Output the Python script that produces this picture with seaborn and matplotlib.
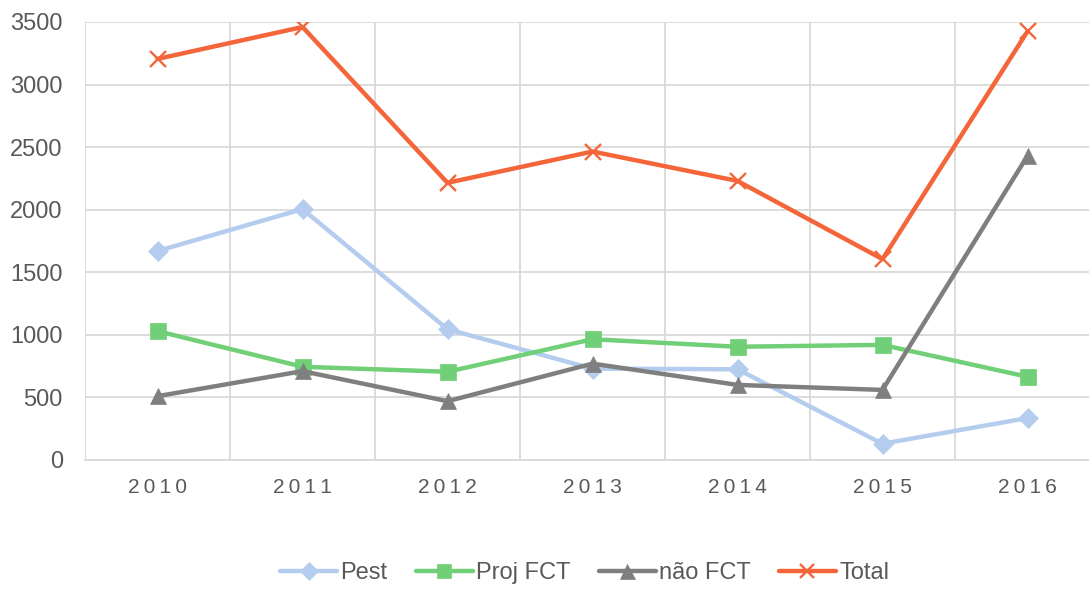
import pandas as pd
import matplotlib.pyplot as plt
import seaborn as sns
from matplotlib.lines import Line2D

# ---------------- DATA ----------------
years = ["2010", "2011", "2012", "2013", "2014", "2015", "2016"]
pest = [1670, 2005, 1045, 730, 725, 130, 335]
proj_fct = [1030, 745, 705, 965, 905, 920, 665]
nao_fct = [510, 710, 470, 770, 600, 560, 2430]
total = [3205, 3460, 2215, 2465, 2230, 1605, 3425]

series_names = ["Pest", "Proj FCT", "não FCT", "Total"]
series_values = [pest, proj_fct, nao_fct, total]
colors = ["#B4CDEE", "#70CF77", "#7F7F7F", "#F4653A"]
markers = ["D", "s", "^", "x"]
msizes = [10, 11, 12, 11]

rows = []
for name, vals in zip(series_names, series_values):
    for y, v in zip(years, vals):
        rows.append({"year": y, "value": v, "series": name})
df = pd.DataFrame(rows)

# ---------------- PLOT ----------------
sns.set_style("white")
plt.rcParams['font.family'] = ['Liberation Sans', 'DejaVu Sans']

fig = plt.figure(figsize=(10.89, 5.90), dpi=100)
ax = fig.add_axes([85 / 1089, 1 - 460 / 590, (1100 - 85) / 1089, 438 / 590])

for name, col, mk, ms in zip(series_names, colors, markers, msizes):
    sub = df[df["series"] == name]
    sns.lineplot(data=sub, x="year", y="value", ax=ax, color=col, lw=3.2,
                 marker=mk, markersize=ms, markeredgecolor=col,
                 markeredgewidth=1.7 if mk == "x" else 0.5,
                 sort=False, legend=False, zorder=3)

ax.set_xlim(-0.5, len(years) - 0.5)
ax.set_ylim(0, 3500)
ax.set_yticks(range(0, 3501, 500))
ax.set_xticks(range(len(years)))
# letter-spaced year labels, like the original
ax.set_xticklabels(["\u2009".join(y) for y in years])
ax.set_xticks([i - 0.5 for i in range(len(years) + 1)], minor=True)

ax.grid(axis="y", which="major", color="#D9D9D9", lw=1.3)
ax.grid(axis="x", which="minor", color="#D9D9D9", lw=1.3)
ax.grid(axis="x", which="major", visible=False)
ax.set_axisbelow(True)

for s in ["top", "right", "left"]:
    ax.spines[s].set_visible(False)
ax.spines["bottom"].set_color("#D9D9D9")
ax.spines["bottom"].set_linewidth(1.3)

ax.tick_params(axis="y", length=0, pad=16, labelsize=17, labelcolor="#595959")
ax.tick_params(axis="x", which="both", length=0, pad=13, labelsize=15, labelcolor="#595959")
ax.set_xlabel("")
ax.set_ylabel("")

handles = [Line2D([], [], color=c, lw=3.2, marker=m, markersize=s * 0.9,
                  markeredgecolor=c, markeredgewidth=1.7 if m == "x" else 0.5)
           for c, m, s in zip(colors, markers, msizes)]
leg = fig.legend(handles, series_names, loc="center", bbox_to_anchor=(0.537, 0.029),
                 ncol=4, frameon=False, fontsize=17, handlelength=2.4,
                 handletextpad=0.15, columnspacing=1.2)
for t in leg.get_texts():
    t.set_color("#595959")

fig.savefig("out.png", dpi=100)
